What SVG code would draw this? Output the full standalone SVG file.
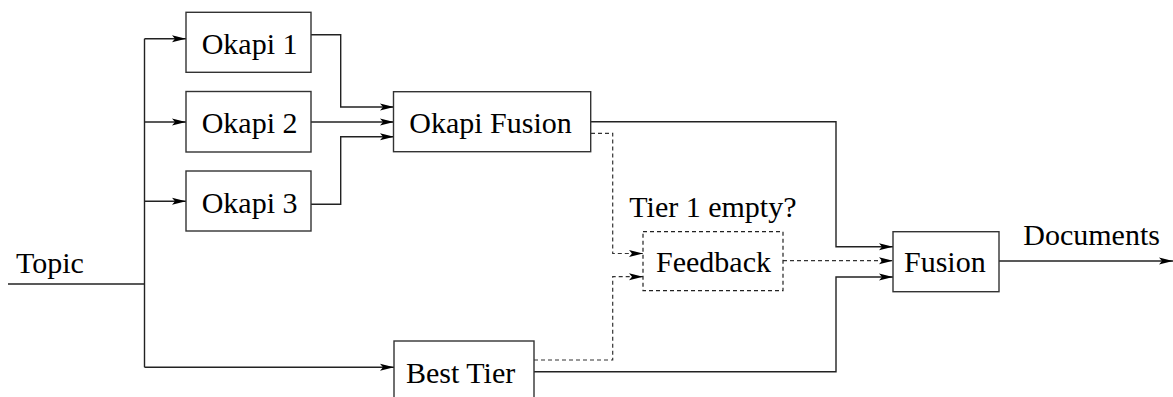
<svg xmlns="http://www.w3.org/2000/svg" width="1173" height="397" viewBox="0 0 1173 397">
<style>
.box{fill:#fff;stroke:#333;stroke-width:1.4}
.dbox{fill:#fff;stroke:#222;stroke-width:1.2;stroke-dasharray:4 3}
.t{font-size:30px;fill:#000}
.c{fill:none;stroke:#222;stroke-width:1.4}
.d{fill:none;stroke:#333;stroke-width:1.2;stroke-dasharray:4 3}
</style>
<defs>
<marker id="ah" markerUnits="userSpaceOnUse" markerWidth="14" markerHeight="8" refX="14" refY="4" orient="auto">
<path d="M0,0.5 L14,4 L0,7.5 L3,4 z" fill="#000"/>
</marker>
</defs>
<g id="connectors">
<path class="c" d="M8,284 H144.5"/>
<path class="c" d="M144.5,38.7 V367.3"/>
<path class="c" d="M144.5,38.7 H186" marker-end="url(#ah)"/>
<path class="c" d="M144.5,122 H186" marker-end="url(#ah)"/>
<path class="c" d="M144.5,201.3 H186" marker-end="url(#ah)"/>
<path class="c" d="M144.5,367.3 H394" marker-end="url(#ah)"/>
<path class="c" d="M311,34.7 H340.7 V107 H394" marker-end="url(#ah)"/>
<path class="c" d="M311,122 H394" marker-end="url(#ah)"/>
<path class="c" d="M311,204.3 H340.7 V136.7 H394" marker-end="url(#ah)"/>
<path class="c" d="M591,121.7 H836 V246.7 H893" marker-end="url(#ah)"/>
<path class="c" d="M534,371.7 H836 V277 H893" marker-end="url(#ah)"/>
<path class="d" d="M591,133.3 H612.7 V253.5 H643" marker-end="url(#ah)"/>
<path class="d" d="M534,360 H612.7 V276.7 H643" marker-end="url(#ah)"/>
<path class="d" d="M783,260.7 H893" marker-end="url(#ah)"/>
<path class="c" d="M999,261 H1173" marker-end="url(#ah)"/>
</g>
<g font-family="'Liberation Serif', 'Times New Roman', 'DejaVu Serif', serif">
<g id="topic"><text class="t" x="16" y="273">Topic</text></g>
<g id="okapi1"><rect class="box" x="186" y="12.3" width="125" height="60"/><text class="t" x="201.7" y="54">Okapi 1</text></g>
<g id="okapi2"><rect class="box" x="186" y="91.5" width="125" height="60.5"/><text class="t" x="201.7" y="132.7">Okapi 2</text></g>
<g id="okapi3"><rect class="box" x="186" y="171" width="125" height="60"/><text class="t" x="201.7" y="212.7">Okapi 3</text></g>
<g id="okapifusion"><rect class="box" x="393.5" y="91.7" width="197.2" height="60"/><text class="t" x="409.3" y="133.3">Okapi Fusion</text></g>
<g id="feedback"><rect class="dbox" x="643" y="231.7" width="140" height="59"/><text class="t" x="656" y="271.7">Feedback</text><text class="t" x="629.3" y="216.7">Tier 1 empty?</text></g>
<g id="fusion"><rect class="box" x="893" y="231.7" width="106" height="60"/><text class="t" x="904" y="272.3">Fusion</text></g>
<g id="besttier"><rect class="box" x="394" y="341" width="140" height="70"/><text class="t" x="406" y="383.3">Best Tier</text></g>
<g id="documents"><text class="t" x="1023.3" y="245">Documents</text></g>
</g>
</svg>
